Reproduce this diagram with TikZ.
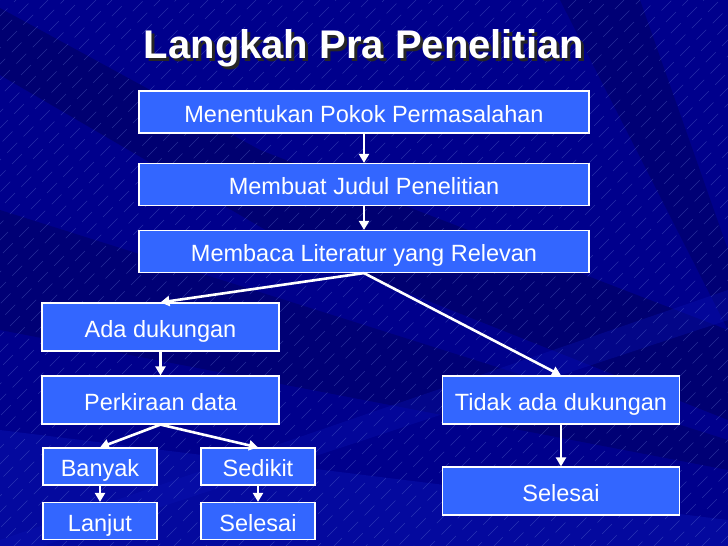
\documentclass[tikz,border=0pt]{standalone}
\usepackage{fontspec}
\setmainfont{Liberation Sans}
\usetikzlibrary{arrows.meta}
\definecolor{bgblue}{RGB}{0,0,140}
\definecolor{darkband}{RGB}{0,0,95}
\definecolor{lightband}{RGB}{10,20,180}
\definecolor{boxblue}{RGB}{51,102,255}
\definecolor{dashblue}{RGB}{110,130,220}

\begin{document}
\begin{tikzpicture}[x=1pt, y=-1pt,
    box/.style={draw=white, line width=1.2pt, fill=boxblue, text=white,
        inner sep=0pt, text height=21pt, text depth=1pt,
        font=\fontsize{23.5}{28}\selectfont},
    widebox/.style={box, minimum width=450pt, minimum height=42pt},
    midbox/.style={box, minimum width=237pt, minimum height=48pt},
    smallbox/.style={box, minimum width=114pt, minimum height=37pt},
    flow/.style={white, line width=2.6pt, -{Triangle[length=9pt, width=10pt]}}]

    \useasboundingbox (0, 0) rectangle (728, 546);

    % Background
    \begin{scope}
        \clip (0, 0) rectangle (728, 546);
        \fill[bgblue] (0, 0) rectangle (728, 546);
        \fill[darkband, opacity=0.6] (0, 8) -- (260, 150) -- (728, 330) -- (728, 420) -- (300, 250) -- (0, 75) -- cycle;
        \fill[darkband, opacity=0.5] (0, 210) -- (728, 440) -- (728, 470) -- (0, 330) -- cycle;
        \fill[darkband, opacity=0.5] (560, 0) -- (640, 0) -- (728, 250) -- (728, 330) -- cycle;
        \fill[lightband, opacity=0.45] (0, 430) -- (728, 520) -- (728, 546) -- (0, 546) -- cycle;
        \fill[lightband, opacity=0.35] (0, 540) -- (728, 290) -- (728, 320) -- (0, 560) -- cycle;
        % Dashes
        \foreach \i in {0,16,...,1300} {
            \draw[dashblue, opacity=0.35, line width=0.4pt, dash pattern=on 14pt off 9pt, dash phase=\i pt]
                (\i - 560, 560) -- (\i, 0);
        }
    \end{scope}

    % Title
    \node[text=black!85, font=\fontsize{40}{44}\bfseries] (titleshadow) at (367, 51) {Langkah Pra Penelitian};
    \node[text=white, font=\fontsize{40}{44}\bfseries] (title) at (364, 48) {Langkah Pra Penelitian};

    % Main steps
    \node[widebox] (pokok) at (364, 112) {Menentukan Pokok Permasalahan};
    \node[widebox] (judul) at (364, 184.5) {Membuat Judul Penelitian};
    \node[widebox] (literatur) at (364, 251.5) {Membaca Literatur yang Relevan};

    % Branches
    \node[midbox] (ada) at (160.5, 327) {Ada dukungan};
    \node[midbox] (perkiraan) at (160.5, 400) {Perkiraan data};
    \node[midbox] (tidak) at (561, 400) {Tidak ada dukungan};
    \node[midbox] (selesaikanan) at (561, 491) {Selesai};

    \node[smallbox] (banyak) at (100, 466.5) {Banyak};
    \node[smallbox] (sedikit) at (258, 466.5) {Sedikit};
    \node[smallbox] (lanjut) at (100, 521) {Lanjut};
    \node[smallbox] (selesaikiri) at (258, 521) {Selesai};

    % Arrows
    \draw[flow] (pokok) -- (judul);
    \draw[flow] (judul) -- (literatur);
    \draw[flow] (literatur.south) -- (ada.north);
    \draw[flow] (literatur.south) -- (tidak.north);
    \draw[flow] (ada) -- (perkiraan);
    \draw[flow] (perkiraan.south) -- (banyak.north);
    \draw[flow] (perkiraan.south) -- (sedikit.north);
    \draw[flow] (banyak) -- (lanjut);
    \draw[flow] (sedikit) -- (selesaikiri);
    \draw[flow] (tidak) -- (selesaikanan);

\end{tikzpicture}
\end{document}
